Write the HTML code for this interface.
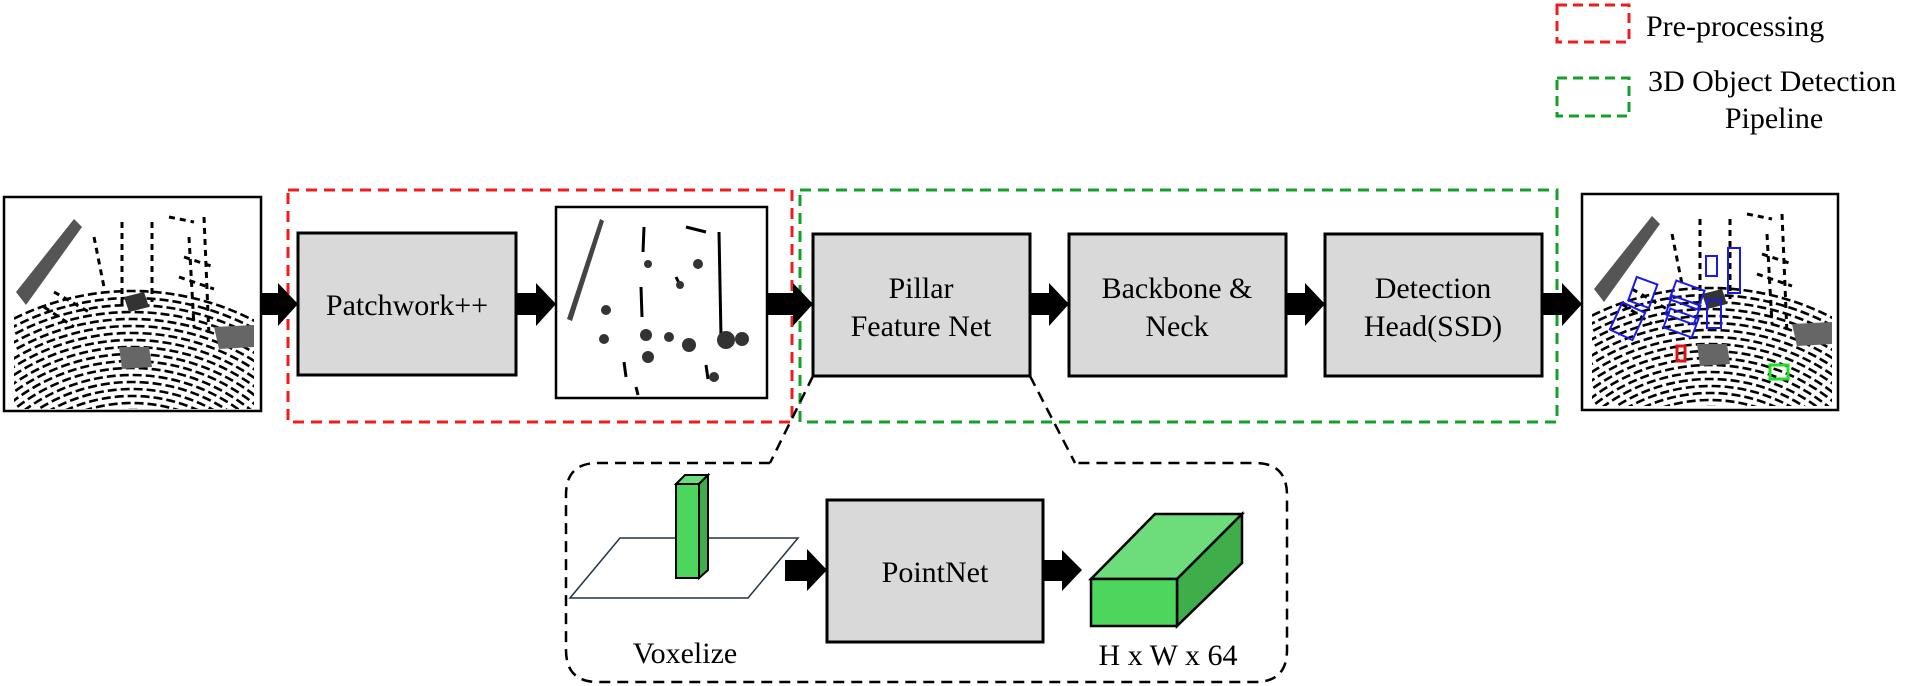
<!DOCTYPE html>
<html><head><meta charset="utf-8"><style>
html,body{margin:0;padding:0;background:#fff;width:1905px;height:686px;overflow:hidden;}
svg{display:block;}
text{font-family:"Liberation Serif",serif;fill:#000;}
</style></head><body>
<svg width="1905" height="686" viewBox="0 0 1905 686" xmlns="http://www.w3.org/2000/svg">
<defs>
<clipPath id="fan"><polygon points="10,110 70,60 186,60 250,110 250,212 10,212"/></clipPath>
<g id="lidar">
  <g clip-path="url(#fan)" fill="none" stroke="#000" stroke-width="2.6" stroke-dasharray="9 4">
    <circle cx="128" cy="360" r="140"/><circle cx="128" cy="360" r="147"/><circle cx="128" cy="360" r="154"/>
    <circle cx="128" cy="360" r="161"/><circle cx="128" cy="360" r="168"/><circle cx="128" cy="360" r="175"/>
    <circle cx="128" cy="360" r="182"/><circle cx="128" cy="360" r="189"/><circle cx="128" cy="360" r="196"/>
    <circle cx="128" cy="360" r="203"/><circle cx="128" cy="360" r="210"/><circle cx="128" cy="360" r="217"/>
    <circle cx="128" cy="360" r="224"/><circle cx="128" cy="360" r="231"/><circle cx="128" cy="360" r="238"/>
    <circle cx="128" cy="360" r="245"/><circle cx="128" cy="360" r="252"/><circle cx="128" cy="360" r="259"/>
    <circle cx="128" cy="360" r="266"/>
  </g>
  <polygon points="12,95 70,22 78,30 22,108" fill="#555"/>
  <polygon points="115,150 145,150 148,170 118,172" fill="#666"/>
  <polygon points="210,130 250,128 250,150 215,152" fill="#666"/>
  <polygon points="120,100 140,95 145,110 125,115" fill="#333"/>
  <g stroke="#000" stroke-width="3" fill="none" stroke-dasharray="6 5">
    <line x1="118" y1="25" x2="118" y2="110"/><line x1="148" y1="25" x2="148" y2="105"/>
    <line x1="200" y1="20" x2="205" y2="140"/><line x1="185" y1="40" x2="190" y2="130"/>
    <line x1="40" y1="110" x2="70" y2="130"/><line x1="50" y1="95" x2="85" y2="115"/>
    <line x1="180" y1="60" x2="210" y2="70"/><line x1="175" y1="80" x2="210" y2="92"/>
    <line x1="90" y1="40" x2="100" y2="90"/><line x1="165" y1="20" x2="190" y2="25"/>
  </g>
</g>
</defs>

<!-- legend -->
<rect x="1557" y="5" width="72" height="37" fill="none" stroke="#ee1c1c" stroke-width="3" stroke-dasharray="10 6"/>
<text x="1646" y="36" font-size="30">Pre-processing</text>
<rect x="1557" y="78" width="72" height="38" fill="none" stroke="#11a02a" stroke-width="3" stroke-dasharray="10 6"/>
<text x="1648" y="91" font-size="30">3D Object Detection</text>
<text x="1774" y="128" font-size="30" text-anchor="middle">Pipeline</text>

<!-- group boxes -->
<rect x="288" y="190" width="504" height="232" fill="none" stroke="#ee1c1c" stroke-width="3" stroke-dasharray="11 7"/>
<rect x="800" y="190" width="757" height="232" fill="none" stroke="#11a02a" stroke-width="3" stroke-dasharray="11 7"/>

<!-- left image -->
<rect x="4" y="197" width="257" height="214" fill="#fff" stroke="#000" stroke-width="2.5"/>
<use href="#lidar" x="4" y="197"/>

<!-- middle image -->
<rect x="556" y="207" width="211" height="191" fill="#fff" stroke="#000" stroke-width="2.5"/>
<g transform="translate(556,207)">
  <polygon points="44,12 48,14 16,114 11,112" fill="#444"/>
  <g stroke="#000" stroke-width="3" fill="none">
    <line x1="163" y1="25" x2="165" y2="130"/><line x1="88" y1="20" x2="87" y2="45"/>
    <line x1="85" y1="80" x2="86" y2="110"/><line x1="120" y1="70" x2="125" y2="80"/>
    <line x1="68" y1="155" x2="70" y2="170"/><line x1="150" y1="158" x2="152" y2="172"/>
    <line x1="80" y1="180" x2="82" y2="188"/><line x1="130" y1="20" x2="150" y2="25"/>
  </g>
  <g fill="#333">
    <circle cx="170" cy="133" r="9"/><circle cx="186" cy="132" r="7"/><circle cx="133" cy="138" r="7"/>
    <circle cx="90" cy="128" r="6"/><circle cx="113" cy="130" r="5"/><circle cx="50" cy="103" r="5"/>
    <circle cx="48" cy="132" r="5"/><circle cx="92" cy="150" r="6"/><circle cx="142" cy="57" r="5"/>
    <circle cx="124" cy="78" r="4"/><circle cx="158" cy="170" r="5"/><circle cx="92" cy="57" r="4"/>
  </g>
</g>

<!-- right image -->
<rect x="1582" y="194" width="256" height="216" fill="#fff" stroke="#000" stroke-width="2.5"/>
<use href="#lidar" x="1582" y="194"/>
<g fill="none" stroke-width="2">
  <g stroke="#1a1aee">
    <rect x="1632" y="280" width="22" height="25" transform="rotate(20 1643 292)"/>
    <rect x="1615" y="306" width="25" height="30" transform="rotate(25 1627 321)"/>
    <rect x="1672" y="285" width="30" height="20" transform="rotate(20 1687 295)"/>
    <rect x="1668" y="300" width="30" height="20" transform="rotate(20 1683 310)"/>
    <rect x="1666" y="313" width="30" height="20" transform="rotate(20 1681 323)"/>
    <rect x="1706" y="256" width="11" height="20"/>
    <rect x="1728" y="248" width="12" height="45"/>
    <rect x="1707" y="300" width="14" height="28"/>
  </g>
  <rect x="1677" y="346" width="8" height="15" stroke="#e41010" stroke-width="3"/>
  <rect x="1770" y="365" width="18" height="14" stroke="#22dd22" stroke-width="3"/>
</g>

<!-- process boxes -->
<g fill="#d9d9d9" stroke="#000" stroke-width="3">
  <rect x="298" y="233" width="218" height="142"/>
  <rect x="813" y="234" width="217" height="142"/>
  <rect x="1069" y="234" width="217" height="142"/>
  <rect x="1325" y="234" width="217" height="142"/>
  <rect x="827" y="500" width="216" height="142"/>
</g>
<g font-size="30" text-anchor="middle">
  <text x="407" y="315">Patchwork++</text>
  <text x="921" y="298">Pillar</text>
  <text x="921" y="336">Feature Net</text>
  <text x="1177" y="298">Backbone &amp;</text>
  <text x="1177" y="336">Neck</text>
  <text x="1433" y="298">Detection</text>
  <text x="1433" y="336">Head(SSD)</text>
  <text x="935" y="582">PointNet</text>
  <text x="685" y="663">Voxelize</text>
  <text x="1168" y="665">H x W x 64</text>
</g>

<!-- arrows -->
<g fill="#000">
  <polygon points="260,293 278,293 278,283 298,304 278,326 278,315 260,315"/>
  <polygon points="516,293 536,293 536,283 556,304 536,326 536,315 516,315"/>
  <polygon points="767,293 793,293 793,283 813,304 793,326 793,315 767,315"/>
  <polygon points="1030,293 1049,293 1049,283 1069,304 1049,326 1049,315 1030,315"/>
  <polygon points="1286,293 1305,293 1305,283 1325,304 1305,326 1305,315 1286,315"/>
  <polygon points="1542,293 1562,293 1562,283 1582,304 1562,326 1562,315 1542,315"/>
  <polygon points="785,560 807,560 807,549 827,570 807,591 807,581 785,581"/>
  <polygon points="1043,560 1062,560 1062,550 1082,570 1062,591 1062,581 1043,581"/>
</g>

<!-- bottom dashed detail box -->
<path d="M770,463 L598,463 Q566,463 566,495 L566,650 Q566,682 598,682 L1255,682 Q1287,682 1287,650 L1287,495 Q1287,463 1255,463 L1075,463" fill="none" stroke="#000" stroke-width="2.5" stroke-dasharray="11 7"/>
<line x1="813" y1="376" x2="770" y2="463" stroke="#000" stroke-width="2.5" stroke-dasharray="11 7"/>
<line x1="1030" y1="376" x2="1075" y2="463" stroke="#000" stroke-width="2.5" stroke-dasharray="11 7"/>

<!-- voxelize plane + pillar -->
<polygon points="570,598 620,538 798,538 748,598" fill="#fff" stroke="#234" stroke-width="1.5"/>
<polygon points="676,484 685,475 708,475 699,484" fill="#6ddc7a" stroke="#000" stroke-width="2"/>
<polygon points="699,484 708,475 708,570 699,578" fill="#3fae4a" stroke="#000" stroke-width="2"/>
<rect x="676" y="484" width="23" height="94" fill="#4cd65e" stroke="#000" stroke-width="2"/>

<!-- cuboid -->
<polygon points="1091,579 1155,514 1242,514 1177,579" fill="#6ddc7a" stroke="#000" stroke-width="2.5"/>
<polygon points="1177,579 1242,514 1242,563 1177,626" fill="#3fae4a" stroke="#000" stroke-width="2.5"/>
<rect x="1091" y="579" width="86" height="47" fill="#4cd65e" stroke="#000" stroke-width="2.5"/>
</svg>
</body></html>
